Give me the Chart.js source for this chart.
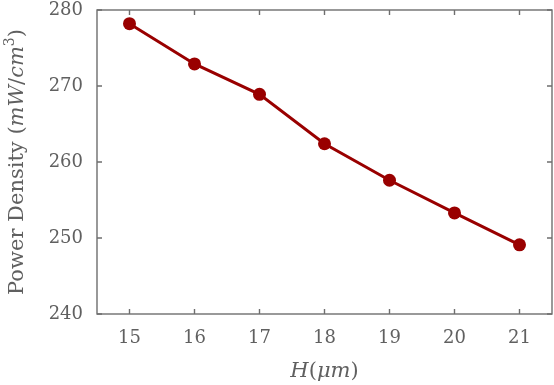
<!DOCTYPE html>
<html>
<head>
<meta charset="utf-8">
<script src="https://cdn.jsdelivr.net/npm/chart.js@4"></script>
<style>
  html, body { margin: 0; padding: 0; background: #fff; }
  #wrap { width: 554px; height: 385px; position: relative; }
</style>
</head>
<body>
<div id="wrap"><canvas id="chart"></canvas></div>
<script>
// data
const heights = [15, 16, 17, 18, 19, 20, 21];
const powerDensity = [278.2, 272.9, 268.9, 262.4, 257.6, 253.3, 249.1];
const yTicks = [240, 250, 260, 270, 280];

const axisColor = '#6e6e6e';
const textColor = '#606060';
const lineColor = '#990000';
const serif = '"DejaVu Serif", "Liberation Serif", serif';

// draws the framed box with inward ticks and the mixed-style axis titles
const frameAndTitles = {
    id: 'frameAndTitles',
    afterDraw(chart) {
        const ctx = chart.ctx;
        const a = chart.chartArea;
        const xs = chart.scales.x;
        const ys = chart.scales.y;
        ctx.save();
        ctx.strokeStyle = axisColor;
        ctx.lineWidth = 1.4;
        ctx.strokeRect(a.left, a.top, a.right - a.left, a.bottom - a.top);
        const len = 5;
        ctx.beginPath();
        heights.forEach(v => {
            const px = xs.getPixelForValue(v);
            ctx.moveTo(px, a.bottom); ctx.lineTo(px, a.bottom - len);
            ctx.moveTo(px, a.top); ctx.lineTo(px, a.top + len);
        });
        yTicks.forEach(v => {
            const py = ys.getPixelForValue(v);
            ctx.moveTo(a.left, py); ctx.lineTo(a.left + len, py);
            ctx.moveTo(a.right, py); ctx.lineTo(a.right - len, py);
        });
        ctx.stroke();

        // runs of text: [string, italic, superscript]
        function drawRuns(runs, cx, cy, rotate) {
            ctx.save();
            ctx.translate(cx, cy);
            if (rotate) ctx.rotate(-Math.PI / 2);
            ctx.fillStyle = textColor;
            ctx.textBaseline = 'alphabetic';
            ctx.textAlign = 'left';
            const fontFor = r => (r[1] ? 'italic ' : '') + (r[2] ? '14px ' : '21px ') + serif;
            let total = 0;
            runs.forEach(r => { ctx.font = fontFor(r); total += ctx.measureText(r[0]).width; });
            let x = -total / 2;
            runs.forEach(r => {
                ctx.font = fontFor(r);
                ctx.fillText(r[0], x, r[2] ? -9 : 0);
                x += ctx.measureText(r[0]).width;
            });
            ctx.restore();
        }
        drawRuns([['Power Density ', false], ['(', false], ['mW', true], ['/', false], ['cm', true], ['3', false, true], [')', false]],
            23, (a.top + a.bottom) / 2, true);
        drawRuns([['H', true], ['(', false], ['μm', true], [')', false]],
            (a.left + a.right) / 2, 377, false);
        ctx.restore();
    }
};

new Chart(document.getElementById('chart'), {
    type: 'line',
    data: {
        datasets: [{
            data: heights.map((h, i) => ({ x: h, y: powerDensity[i] })),
            borderColor: lineColor,
            backgroundColor: lineColor,
            borderWidth: 3,
            pointRadius: 6.5,
            pointHoverRadius: 6.5,
            pointBorderWidth: 0,
            tension: 0
        }]
    },
    options: {
        responsive: true,
        maintainAspectRatio: false,
        animation: false,
        layout: { autoPadding: false, padding: { top: 10, right: 2, left: 0, bottom: 0 } },
        plugins: { legend: { display: false }, tooltip: { enabled: false } },
        scales: {
            x: {
                type: 'linear',
                min: 14.5,
                max: 21.5,
                afterBuildTicks: s => { s.ticks = heights.map(v => ({ value: v })); },
                afterFit: s => { s.height = 71; s.paddingLeft = 0; s.paddingRight = 0; },
                grid: { display: false, drawTicks: false },
                border: { display: false },
                ticks: { color: textColor, padding: 14, font: { family: serif, size: 18 } }
            },
            y: {
                min: 240,
                max: 280,
                afterBuildTicks: s => { s.ticks = yTicks.map(v => ({ value: v })); },
                afterFit: s => { s.width = 97; s.paddingTop = 0; s.paddingBottom = 0; },
                grid: { display: false, drawTicks: false },
                border: { display: false },
                ticks: { color: textColor, padding: 14, font: { family: serif, size: 18 } }
            }
        }
    },
    plugins: [frameAndTitles]
});
</script>
</body>
</html>
